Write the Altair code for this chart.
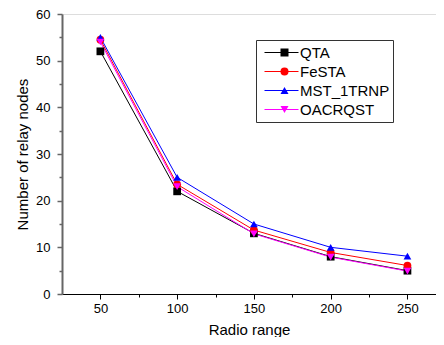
import altair as alt
import pandas as pd

radio_range = [50, 100, 150, 200, 250]
series_names = ["QTA", "FeSTA", "MST_1TRNP", "OACRQST"]
qta = [52, 22, 13, 8, 5]
festa = [54.5, 23.5, 13.7, 8.9, 6.1]
mst = [55, 25, 15, 10, 8.1]
oacrqst = [54, 23, 12.9, 7.9, 4.9]
colors = ["#000000", "#ff0000", "#0000ff", "#ff00ff"]
shapes = ["square", "circle", "triangle-up", "triangle-down"]
x_major = [50, 100, 150, 200, 250]
x_minor = [75, 125, 175, 225]
y_major = [0, 10, 20, 30, 40, 50, 60]
y_minor = [5, 15, 25, 35, 45, 55]

# marker legend uses a distinct domain (trailing space) so Vega-Lite does not merge it
marker_names = [n + " " for n in series_names]

rows = []
for name, mname, vals in zip(series_names, marker_names, [qta, festa, mst, oacrqst]):
    for r, v in zip(radio_range, vals):
        rows.append({"range": r, "nodes": v, "series": name, "marker": mname})
df = pd.DataFrame(rows)

FONT = "Liberation Sans"
xscale = alt.Scale(domain=[25, 268.6], nice=False, zero=False)
yscale = alt.Scale(domain=[0, 60], nice=False)

lines = alt.Chart(df).mark_line(strokeWidth=1).encode(
    x=alt.X("range:Q", scale=xscale,
            axis=alt.Axis(orient="bottom", values=x_major, title="Radio range",
                          tickSize=5, labelPadding=3, titlePadding=7,
                          domainColor="#000000", tickColor="#000000",
                          labelFontSize=13, titleFontSize=15, labelFont=FONT,
                          titleFont=FONT, titleFontWeight="normal",
                          labelColor="#000000", titleColor="#000000", grid=False)),
    y=alt.Y("nodes:Q", scale=yscale,
            axis=alt.Axis(orient="left", values=y_major, title="Number of relay nodes",
                          tickSize=5, labelPadding=7, titlePadding=5,
                          domainColor="#666666", domainWidth=2, tickColor="#666666",
                          tickWidth=1.5,
                          labelFontSize=13, titleFontSize=15, labelFont=FONT,
                          titleFont=FONT, titleFontWeight="normal",
                          labelColor="#000000", titleColor="#000000", grid=False)),
    color=alt.Color("series:N",
                    scale=alt.Scale(domain=series_names, range=colors),
                    legend=alt.Legend(orient="none", legendX=194, legendY=26,
                                      title=None, symbolType="stroke",
                                      symbolSize=1156, symbolStrokeWidth=1,
                                      labelFont=FONT, labelFontSize=15,
                                      labelColor="#000000", labelOffset=1,
                                      clipHeight=19, rowPadding=0,
                                      strokeColor="#333333", padding=3,
                                      symbolOffset=5)),
    order=alt.Order("order:Q"),
).transform_calculate(order="indexof(['QTA','FeSTA','MST_1TRNP','OACRQST'], datum.series)")

shape_legend = alt.Legend(orient="none", legendX=194, legendY=26, title=None,
                          symbolSize=64, symbolStrokeWidth=0, labelFont=FONT,
                          labelFontSize=15, labelExpr="''", labelOffset=3,
                          clipHeight=19, rowPadding=0, padding=3,
                          symbolOffset=18, symbolOpacity=1)

points = alt.Chart(df).mark_point(filled=True, size=60, opacity=1).encode(
    x=alt.X("range:Q", scale=xscale,
            axis=alt.Axis(orient="bottom", values=x_minor, title=None, labels=False,
                          domain=False, tickSize=3, tickColor="#000000", grid=False)),
    y=alt.Y("nodes:Q", scale=yscale,
            axis=alt.Axis(orient="left", values=y_minor, title=None, labels=False,
                          domain=False, tickSize=3, tickColor="#666666",
                          tickWidth=1.5, grid=False)),
    fill=alt.Fill("marker:N", scale=alt.Scale(domain=marker_names, range=colors),
                  legend=shape_legend),
    shape=alt.Shape("marker:N", scale=alt.Scale(domain=marker_names, range=shapes),
                    legend=shape_legend),
)

chart = alt.layer(lines, points).resolve_axis(
    x="independent", y="independent"
).resolve_scale(x="shared", y="shared").properties(
    width=374, height=280,
    autosize=alt.AutoSizeParams(type="none"),
    padding={"left": 54, "top": 6, "right": 0, "bottom": 43},
).configure_view(stroke=None).configure(background="#ffffff")

chart.save("out.html", embed_options={"renderer": "svg", "actions": False})
